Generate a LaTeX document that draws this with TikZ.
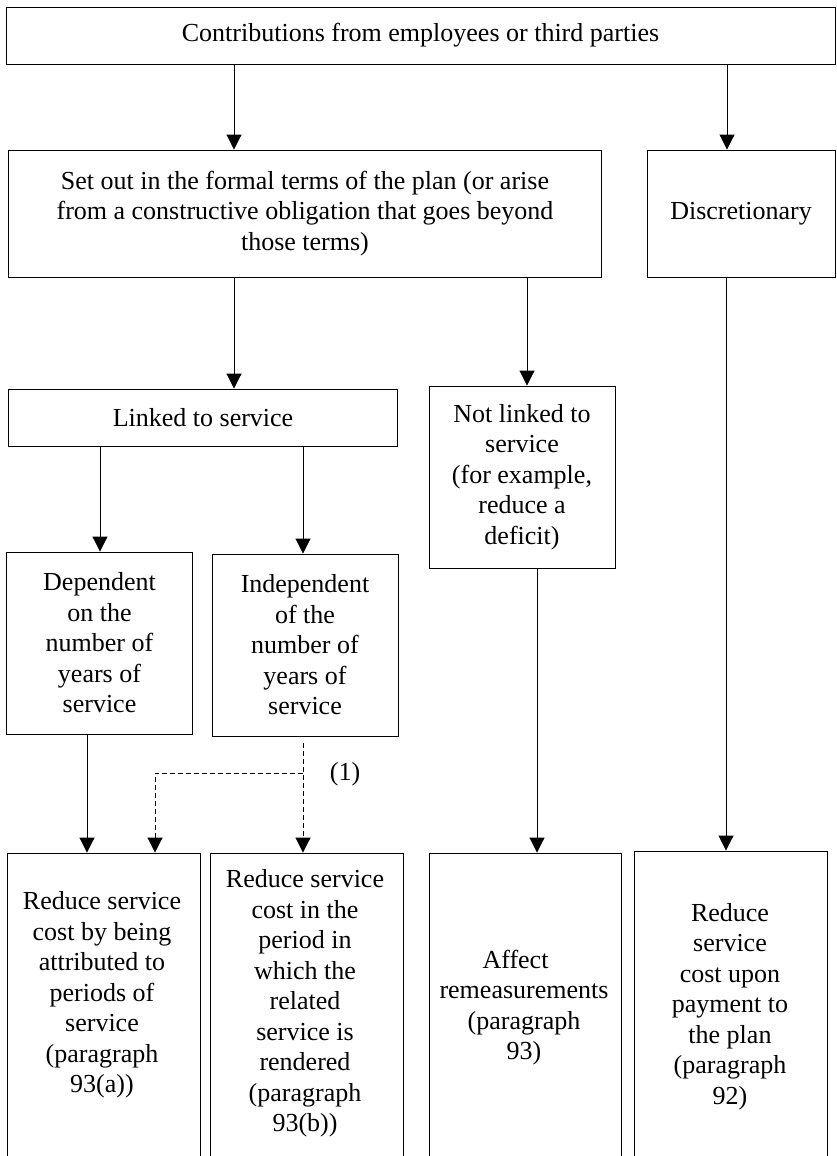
\documentclass[tikz,border=0pt]{standalone}
\usepackage{fontspec}
\setmainfont{Liberation Serif}
\usetikzlibrary{arrows.meta}
\begin{document}
\begin{tikzpicture}[x=1pt,y=-1pt,
  box/.style={draw=black, line width=0.9pt, rectangle, inner sep=0pt, align=center, font=\fontsize{26}{30.5}\selectfont},
  txt/.style={inner sep=0pt, align=center, font=\fontsize{26}{30.5}\selectfont},
  arr/.style={draw=black, line width=0.9pt, -{Triangle[length=15pt,width=15pt]}},
  darr/.style={arr, dash pattern=on 5pt off 3pt}]
\useasboundingbox (0,0) rectangle (836,1156);
\clip (0,0) rectangle (836,1156);
% boxes
\node[box, minimum width=829pt, minimum height=57pt] (top) at (420.5,35.5) {Contributions from employees or third parties};
\node[box, minimum width=593.5pt, minimum height=127pt] (setout) at (305,213.5) {Set out in the formal terms of the plan (or arise\\from a constructive obligation that goes beyond\\those terms)};
\node[box, minimum width=188pt, minimum height=127pt] (disc) at (741,213.5) {Discretionary};
\node[box, minimum width=389.5pt, minimum height=57pt] (linked) at (203,417.5) {Linked to service};
\node[box, minimum width=186pt, minimum height=182pt] (notlinked) at (522,477) {Not linked to\\service\\(for example,\\reduce a\\deficit)};
\node[box, minimum width=186pt, minimum height=182pt] (dep) at (99.5,643) {Dependent\\on the\\number of\\years of\\service};
\node[box, minimum width=186pt, minimum height=182pt] (indep) at (305,645) {Independent\\of the\\number of\\years of\\service};
\node[box, minimum width=192.5pt, minimum height=307pt] (b1) at (103.75,1006.5) {};
\node[box, minimum width=193pt, minimum height=307pt] (b2) at (306.5,1006.5) {};
\node[box, minimum width=192pt, minimum height=307pt] (b3) at (525,1006.5) {};
\node[box, minimum width=193pt, minimum height=309pt] (b4) at (730.5,1005.5) {};
% bottom texts
\node[txt] (t1) at (102,995) {Reduce service\\cost by being\\attributed to\\periods of\\service\\(paragraph\\93(a))};
\node[txt] (t2) at (305,1003.5) {Reduce service\\cost in the\\period in\\which the\\related\\service is\\rendered\\(paragraph\\93(b))};
\node[txt] (t3) at (524,1007.5) {Affect\rule{17pt}{0pt}\\remeasurements\\(paragraph\\93)};
\node[txt] (t4) at (730,1006.5) {Reduce\\service\\cost upon\\payment to\\the plan\\(paragraph\\92)};
% arrows
\draw[arr] (234,0 |- top.south) -- (234,0 |- setout.north);
\draw[arr] (727,0 |- top.south) -- (727,0 |- disc.north);
\draw[arr] (234,0 |- setout.south) -- (234,0 |- linked.north);
\draw[arr] (527,0 |- setout.south) -- (527,0 |- notlinked.north);
\draw[arr] (100,0 |- linked.south) -- (100,0 |- dep.north);
\draw[arr] (303,0 |- linked.south) -- (303,0 |- indep.north);
\draw[arr] (87,0 |- dep.south) -- (87,0 |- b1.north);
\draw[arr] (537,0 |- notlinked.south) -- (537,0 |- b3.north);
\draw[arr] (726,0 |- disc.south) -- (726,0 |- b4.north);
% dashed
\coordinate (dstart) at (303,743);
\coordinate (dsplit) at (303,773);
\coordinate (dcorner) at (155,773);
\draw[darr] (dstart) -- (dstart |- b2.north);
\draw[darr] (dsplit) -- (dcorner) -- (dcorner |- b1.north);
\node[txt] (lab1) at (345,774) {(1)};
\end{tikzpicture}
\end{document}
